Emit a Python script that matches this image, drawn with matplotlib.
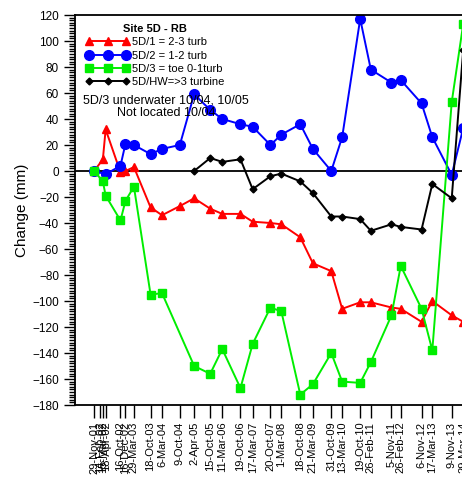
import matplotlib
matplotlib.use('Agg')
import matplotlib.pyplot as plt
from matplotlib.ticker import MultipleLocator
import pandas as pd

plt.rcParams.update({'font.family': ['Liberation Sans', 'DejaVu Sans'], 'font.size': 8})

# survey dates (x ticks)
dates = ['29-Nov-01', '14-Feb-02', '15-Mar-02', '18-Apr-02', '16-Oct-02', '16-Dec-02',
         '29-Mar-03', '18-Oct-03', '6-Mar-04', '9-Oct-04', '2-Apr-05', '15-Oct-05',
         '11-Mar-06', '19-Oct-06', '17-Mar-07', '20-Oct-07', '1-Mar-08', '18-Oct-08',
         '21-Mar-09', '31-Oct-09', '13-Mar-10', '19-Oct-10', '26-Feb-11', '5-Nov-11',
         '26-Feb-12', '6-Nov-12', '17-Mar-13', '9-Nov-13', '29-Mar-14']

# change in mm, None = no reading
s1 = [0, None, 9, 32, -1, 0, 3, -28, -34, -27, -21, -29, -33, -33, -39,
      -40, -41, -51, -71, -77, -106, -101, -101, -105, -106, -116, -100, -111, -116]
s2 = [0, None, None, -2.5, 4, 21, 20, 13, 17, 20, 59, 47, 40, 36, 34,
      20, 28, 36, 17, 0, 26, 117, 78, 68, 70, 52, 26, -3, 33]
s3 = [0, None, -8, -19, -38, -23, -12, -95, -94, None, -150, -156, -137, -167, -133,
      -105, -108, -172, -164, -140, -162, -163, -147, -111, -73, -106, -138, 53, 113]
s4 = [None, None, None, None, None, None, None, None, None, None, 0, 10, 7, 9, -14,
      -4, -2, -8, -17, -35, -35, -37, -46, -41, -43, -45, -10, -21, 93]

names = ['5D/1 = 2-3 turb', '5D/2 = 1-2 turb', '5D/3 = toe 0-1turb', '5D/HW=>3 turbine']

x = pd.to_datetime(dates, format='%d-%b-%y')

fig = plt.figure(figsize=(4.62, 4.82), dpi=100)
ax = fig.add_axes([75 / 462, 77 / 482, 400 / 462, 390 / 482])

styles = [dict(color='#ff0000', marker='^', ms=5.5),
          dict(color='#0000ff', marker='o', ms=7),
          dict(color='#00ee00', marker='s', ms=6),
          dict(color='#000000', marker='D', ms=3.5)]

for vals, name, st in zip([s1, s2, s3, s4], names, styles):
    xs = [d for d, v in zip(x, vals) if v is not None]
    ys = [v for v in vals if v is not None]
    ax.plot(xs, ys, lw=1.4, label=name, **st)

ax.axhline(0, color='black', lw=1.3, zorder=1)

ax.set_ylim(-180, 120)
ax.set_xlim(pd.Timestamp('2001-04-09'), pd.Timestamp('2014-08-20'))
ax.yaxis.set_major_locator(MultipleLocator(20))
ax.yaxis.set_minor_locator(MultipleLocator(2))
ax.set_xticks(x)
ax.set_xticklabels(dates, rotation=90, fontsize=8)
ax.tick_params(axis='x', length=9, width=1, direction='out', pad=3)
ax.tick_params(axis='y', which='major', length=8, width=1, labelsize=8.5)
ax.tick_params(axis='y', which='minor', length=4, width=1)
ax.spines['right'].set_visible(False)
for sp in ['left', 'bottom', 'top']:
    ax.spines[sp].set_linewidth(1.3)

ax.set_ylabel('Change (mm)', fontsize=11, labelpad=2)

leg = ax.legend(loc='upper left', bbox_to_anchor=(0.005, 1.0), frameon=False,
                fontsize=8, numpoints=3, handlelength=3.9, handletextpad=0.25,
                labelspacing=0.3, borderaxespad=0.4,
                title='Site 5D - RB', title_fontproperties={'weight': 'bold', 'size': 8})

ax.text(0.228, 0.765, '5D/3 underwater 10/04, 10/05\nNot located 10/04',
        transform=ax.transAxes, ha='center', va='center', fontsize=9, linespacing=1.1)

fig.savefig('out.png', dpi=100)
